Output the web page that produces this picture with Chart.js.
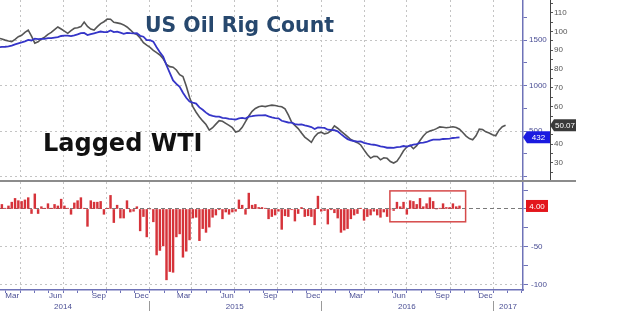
<!DOCTYPE html>
<html>
<head>
<meta charset="utf-8">
<script src="https://cdn.jsdelivr.net/npm/chart.js@4.4.1/dist/chart.umd.min.js"></script>
<style>
  html, body { margin: 0; padding: 0; background: #fff; }
  #wrap { position: relative; width: 620px; height: 320px; overflow: hidden; }
  #top { position: absolute; left: 0; top: 0; }
  #bottom { position: absolute; left: 0; top: 180px; }
</style>
</head>
<body>
<div id="wrap">
  <canvas id="top" width="620" height="180"></canvas>
  <canvas id="bottom" width="620" height="140"></canvas>
</div>
<script>
// weekly series, first point is the week of 2014-02-14
const weekStart = '2014-02-14';

// US oil rig count (weekly)
const rigCount = [
  1419, 1425, 1426, 1430, 1439, 1453, 1464, 1474, 1486, 1501, 1495, 1515, 1509, 1512, 1513, 1520,
  1521, 1527, 1531, 1544, 1548, 1549, 1542, 1550, 1561, 1576, 1577, 1554, 1565, 1574, 1583, 1593,
  1586, 1587, 1605, 1587, 1592, 1580, 1568, 1579, 1575, 1572, 1575,
  1546, 1536, 1499, 1499, 1482, 1421, 1366, 1317, 1223, 1140, 1056, 1019, 986, 922, 866, 825, 813,
  802, 760, 734, 703, 679, 668, 660, 659, 646, 642, 635, 631, 628, 640, 645, 638, 659, 664,
  670, 672, 674, 675, 662, 652, 644, 641, 614, 605, 595, 594, 578, 572, 574, 564, 555,
  545, 524, 541, 538, 536, 516, 515, 510, 498, 467, 439, 413, 400, 392, 386, 387, 372,
  362, 354, 351, 343, 332, 328, 318, 318, 316, 325, 328, 337, 330, 341, 351, 357, 371, 374,
  381, 396, 406, 406, 407, 414, 416, 418, 425, 428, 432
];

// weekly change in rig count
const rigChange = [
  5, 6, 1, 4, 9, 14, 11, 10, 12, 15, -6, 20, -6, 3, 1, 7,
  1, 6, 4, 13, 4, 1, -7, 8, 11, 15, 1, -23, 11, 9, 9, 10,
  -7, 1, 18, -18, 5, -12, -12, 11, -4, -3, 3,
  -29, -10, -37, 0, -17, -61, -55, -49, -94, -83, -84, -37, -33, -64, -56, -41, -12,
  -11, -42, -26, -31, -24, -11, -8, -1, -13, -4, -7, -4, -3, 12, 5, -7, 21, 5,
  6, 2, 2, 1, -13, -10, -8, -3, -27, -9, -10, -1, -16, -6, 2, -10, -9,
  -10, -21, 17, -3, -2, -20, -1, -5, -12, -31, -28, -26, -13, -8, -6, 1, -15,
  -10, -8, -3, -8, -11, -4, -10, 0, -2, 9, 3, 9, -7, 11, 10, 6, 14, 3,
  7, 15, 10, 0, 1, 7, 2, 2, 7, 3, 4
];

// WTI crude, shifted forward (weekly)
const wtiLagged = [
  96.5, 96.0, 95.4, 94.9, 94.6, 95.8, 97.2, 98.0, 99.5, 100.7, 97.5, 93.8, 94.5, 96.0, 97.0, 98.5,
  99.5, 101.0, 102.4, 101.3, 100.2, 99.0, 100.5, 101.7, 102.0, 102.6, 105.0, 102.7, 101.3, 100.8,
  102.6, 104.2, 105.2, 106.6, 106.5, 104.9, 104.6, 104.2, 103.5, 102.4, 100.9, 99.1, 98.4, 96.5,
  94.0, 92.7, 91.5, 90.0, 88.7, 87.5, 85.5, 82.5, 81.3, 81.0, 79.5, 77.0, 76.0, 71.0, 65.0, 60.0,
  57.0, 54.5, 52.4, 50.5, 47.5, 48.8, 50.7, 52.5, 52.2, 51.1, 50.0, 48.8, 46.5, 47.0, 49.0, 52.0,
  55.0, 57.5, 59.0, 59.9, 60.3, 60.0, 60.5, 60.8, 60.6, 60.2, 59.9, 58.8, 55.6, 51.8, 50.0, 48.3,
  46.0, 43.8, 42.4, 41.0, 44.0, 45.8, 46.4, 45.5, 46.0, 47.2, 49.8, 48.5, 47.0, 45.5, 44.0, 42.5,
  41.6, 40.8, 39.6, 37.0, 34.5, 32.6, 33.6, 33.5, 31.7, 32.8, 32.5, 30.8, 30.0, 31.0, 33.5, 36.5,
  38.5, 39.5, 37.6, 39.2, 42.0, 44.4, 46.2, 47.0, 47.5, 48.3, 49.2, 49.0, 48.8, 49.0, 49.3, 48.9,
  48.0, 46.2, 44.3, 43.0, 42.4, 44.5, 48.0, 47.8, 46.6, 46.0, 45.0, 44.5, 47.5, 49.3, 50.07
];

const quarterMonths = ['Mar', 'Jun', 'Sep', 'Dec'];
const yearLabels = ['2014', '2015', '2016', '2017'];
const rigTicks = [0, 500, 1000, 1500];
const wtiTicks = [30, 40, 50, 60, 70, 80, 90, 100, 110];
const changeTicks = [-100, -50, 0];

// ---- helpers ----
const T0 = Date.UTC(2014, 0, 1);
const dayOf = (y, m, d) => (Date.UTC(y, m, d) - T0) / 86400000;
const startDay = (Date.parse(weekStart) - T0) / 86400000;
const toPoints = arr => arr.map((v, i) => ({ x: startDay + 7 * i, y: v }));

const xMin = dayOf(2014, 1, 17);
const xMax = dayOf(2017, 2, 5);

const axisBlue = '#4a4e94';
const axisLine = '#6e72b8';
const gridGray = '#c4c4c4';

Chart.defaults.font.family = '"Liberation Sans", Arial, sans-serif';
Chart.defaults.font.size = 8;

// month ticks: small marks at month starts, labels mid-month
const monthTickList = [];
for (let y = 2014; y <= 2017; y++) {
  for (let m = 0; m < 12; m++) {
    const start = dayOf(y, m, 1);
    if (start >= xMin && start <= xMax) {
      monthTickList.push({ value: start, label: '', quarter: m % 3 === 0, kind: 'month' });
    }
    const qi = [2, 5, 8, 11].indexOf(m);
    const mid = dayOf(y, m, 15);
    if (qi >= 0 && mid >= xMin && mid <= xMax) {
      monthTickList.push({ value: mid, label: quarterMonths[qi], quarter: false, kind: 'label' });
    }
  }
}
monthTickList.sort((a, b) => a.value - b.value);

const yearTickList = [
  { value: dayOf(2014, 6, 1), label: yearLabels[0], sep: false },
  { value: dayOf(2015, 0, 1), label: '', sep: true },
  { value: dayOf(2015, 6, 1), label: yearLabels[1], sep: false },
  { value: dayOf(2016, 0, 1), label: '', sep: true },
  { value: dayOf(2016, 6, 1), label: yearLabels[2], sep: false },
  { value: dayOf(2017, 0, 1), label: '', sep: true },
  { value: dayOf(2017, 1, 1), label: yearLabels[3], sep: false }
];

const stepTicks = (from, to, step) => {
  const out = [];
  for (let v = from; v <= to + 1e-9; v += step) out.push({ value: v });
  return out;
};

const noPadY = w => s => { s.width = w; s.paddingTop = 0; s.paddingBottom = 0; };

function drawTag(ctx, x, y, w, color, text, pointed) {
  const h = 12;
  ctx.fillStyle = color;
  ctx.beginPath();
  if (pointed) { ctx.moveTo(x, y); ctx.lineTo(x + 4, y - h / 2); } else { ctx.moveTo(x, y - h / 2); }
  ctx.lineTo(x + w, y - h / 2);
  ctx.lineTo(x + w, y + h / 2);
  if (pointed) ctx.lineTo(x + 4, y + h / 2); else ctx.lineTo(x, y + h / 2);
  ctx.closePath();
  ctx.fill();
  ctx.fillStyle = '#fff';
  ctx.font = '8px "Liberation Sans"';
  ctx.textAlign = 'center';
  ctx.textBaseline = 'middle';
  ctx.fillText(text, x + w / 2 + (pointed ? 2 : 0), y + 0.5);
}

const topDecor = {
  id: 'topDecor',
  afterDraw(chart) {
    const { ctx, scales } = chart;
    ctx.save();
    ctx.textAlign = 'left';
    ctx.textBaseline = 'alphabetic';
    ctx.font = 'bold 20.4px "DejaVu Sans"';
    ctx.fillStyle = '#27486e';
    ctx.fillText('US Oil Rig Count', 145, 32);
    ctx.font = 'bold 24px "DejaVu Sans"';
    ctx.fillStyle = '#111';
    ctx.fillText('Lagged WTI', 43, 151);

    const lastRig = rigCount[rigCount.length - 1];
    const lastWti = wtiLagged[wtiLagged.length - 1];
    drawTag(ctx, scales.wti.left, scales.wti.getPixelForValue(lastWti), 26, '#3a3a3a', lastWti.toFixed(2), true);
    drawTag(ctx, scales.rig.left, scales.rig.getPixelForValue(lastRig), 27, '#1b1be0', String(lastRig), true);
    ctx.restore();
  }
};

const bottomDecor = {
  id: 'bottomDecor',
  afterDraw(chart) {
    const { ctx, scales } = chart;
    ctx.save();
    // panel separator
    ctx.fillStyle = '#8c8c8c';
    ctx.fillRect(0, 0, 576, 2);
    // highlight box round the 2016 rebound
    const x1 = scales.x.getPixelForValue(dayOf(2016, 4, 26));
    const x2 = scales.x.getPixelForValue(dayOf(2016, 10, 3));
    const y1 = scales.chg.getPixelForValue(24);
    const y2 = scales.chg.getPixelForValue(-17);
    ctx.strokeStyle = '#d64a4a';
    ctx.lineWidth = 1.5;
    ctx.strokeRect(x1, y1, x2 - x1, y2 - y1);
    const lastChg = rigChange[rigChange.length - 1];
    drawTag(ctx, scales.chg.left + 3, scales.chg.getPixelForValue(lastChg), 22, '#e3161c', lastChg.toFixed(2), false);
    ctx.restore();
  }
};

const quarterGrid = ctx => {
  const t = monthTickList[ctx.index];
  return t && t.quarter ? gridGray : 'transparent';
};

// ---- top panel: rig count and lagged WTI ----
new Chart(document.getElementById('top'), {
  type: 'line',
  data: {
    datasets: [
      {
        label: 'US Oil Rig Count',
        data: toPoints(rigCount),
        yAxisID: 'rig',
        borderColor: '#3535c8',
        borderWidth: 1.8,
        pointRadius: 0,
        tension: 0
      },
      {
        label: 'Lagged WTI',
        data: toPoints(wtiLagged),
        yAxisID: 'wti',
        borderColor: '#555555',
        borderWidth: 1.6,
        pointRadius: 0,
        tension: 0
      }
    ]
  },
  options: {
    responsive: false,
    animation: false,
    layout: { padding: 0 },
    plugins: { legend: { display: false }, tooltip: { enabled: false } },
    scales: {
      x: {
        type: 'linear',
        offset: false,
        min: xMin,
        max: xMax,
        afterBuildTicks: s => { s.ticks = monthTickList.map(t => ({ value: t.value })); },
        ticks: { display: false, autoSkip: false },
        grid: { color: quarterGrid, drawTicks: false, offset: false },
        border: { display: false, dash: [2, 3] },
        afterFit: s => { s.height = 0; s.paddingLeft = 0; s.paddingRight = 0; }
      },
      rig: {
        type: 'linear',
        axis: 'y',
        position: 'right',
        weight: 0,
        min: -36,
        max: 1939,
        afterBuildTicks: s => { s.ticks = stepTicks(0, 1750, 250); },
        ticks: {
          callback: v => rigTicks.includes(v) && v > 0 ? String(v) : '',
          color: axisBlue,
          padding: 2,
          autoSkip: false
        },
        grid: {
          color: ctx => ctx.tick && rigTicks.includes(ctx.tick.value) ? gridGray : 'transparent',
          tickColor: axisLine,
          tickLength: 4
        },
        border: { color: axisLine, width: 1.5, dash: [2, 3] },
        afterFit: noPadY(27)
      },
      wti: {
        type: 'linear',
        axis: 'y',
        position: 'right',
        weight: 1,
        min: 20.95,
        max: 116.76,
        afterBuildTicks: s => { s.ticks = stepTicks(25, 115, 5); },
        ticks: {
          callback: v => wtiTicks.includes(v) ? String(v) : '',
          color: '#555',
          padding: 1,
          autoSkip: false
        },
        grid: { drawOnChartArea: false, tickColor: '#555', tickLength: 3 },
        border: { color: '#444', width: 1 },
        afterFit: noPadY(70)
      }
    }
  },
  plugins: [topDecor]
});

// ---- bottom panel: weekly change ----
new Chart(document.getElementById('bottom'), {
  type: 'bar',
  data: {
    datasets: [{
      label: 'Weekly change',
      data: toPoints(rigChange),
      xAxisID: 'x',
      yAxisID: 'chg',
      backgroundColor: '#d6333a',
      borderWidth: 0,
      barThickness: 1.8
    }]
  },
  options: {
    responsive: false,
    animation: false,
    layout: { padding: { top: 2 } },
    plugins: { legend: { display: false }, tooltip: { enabled: false } },
    scales: {
      x: {
        type: 'linear',
        position: 'bottom',
        weight: 0,
        offset: false,
        min: xMin,
        max: xMax,
        afterBuildTicks: s => { s.ticks = monthTickList.map(t => ({ value: t.value })); },
        ticks: {
          callback: (v, i) => monthTickList[i] ? monthTickList[i].label : '',
          color: axisBlue,
          padding: -2,
          autoSkip: false,
          maxRotation: 0,
          minRotation: 0
        },
        grid: {
          offset: false,
          color: quarterGrid,
          tickColor: ctx => {
            const t = monthTickList[ctx.index];
            return t && t.kind === 'month' ? axisLine : 'transparent';
          },
          tickLength: 3
        },
        border: { color: axisLine, width: 1.5, dash: [2, 3] },
        afterFit: s => { s.height = 11; s.paddingLeft = 0; s.paddingRight = 0; }
      },
      years: {
        type: 'linear',
        axis: 'x',
        position: 'bottom',
        weight: 1,
        offset: false,
        min: xMin,
        max: xMax,
        afterBuildTicks: s => { s.ticks = yearTickList.map(t => ({ value: t.value })); },
        ticks: {
          callback: (v, i) => yearTickList[i] ? yearTickList[i].label : '',
          color: axisBlue,
          padding: -9,
          autoSkip: false,
          maxRotation: 0,
          minRotation: 0
        },
        grid: {
          offset: false,
          drawOnChartArea: false,
          tickColor: ctx => {
            const t = yearTickList[ctx.index];
            return t && t.sep ? '#9a9a9a' : 'transparent';
          },
          tickLength: 10
        },
        border: { display: false },
        afterFit: s => { s.height = 19; s.paddingLeft = 0; s.paddingRight = 0; }
      },
      chg: {
        type: 'linear',
        axis: 'y',
        position: 'right',
        min: -107.5,
        max: 35.8,
        afterBuildTicks: s => { s.ticks = stepTicks(-100, 25, 25); },
        ticks: {
          callback: v => changeTicks.includes(v) ? String(v) : '',
          color: axisBlue,
          padding: 3,
          autoSkip: false
        },
        grid: {
          color: ctx => {
            if (!ctx.tick) return 'transparent';
            if (ctx.tick.value === 0) return '#7a7a7a';
            return changeTicks.includes(ctx.tick.value) ? gridGray : 'transparent';
          },
          tickColor: axisLine,
          tickLength: 5
        },
        border: {
          color: axisLine,
          width: 1.5,
          dash: ctx => ctx.tick && ctx.tick.value === 0 ? [4, 3] : [2, 3]
        },
        afterFit: noPadY(97)
      }
    }
  },
  plugins: [bottomDecor]
});
</script>
</body>
</html>
